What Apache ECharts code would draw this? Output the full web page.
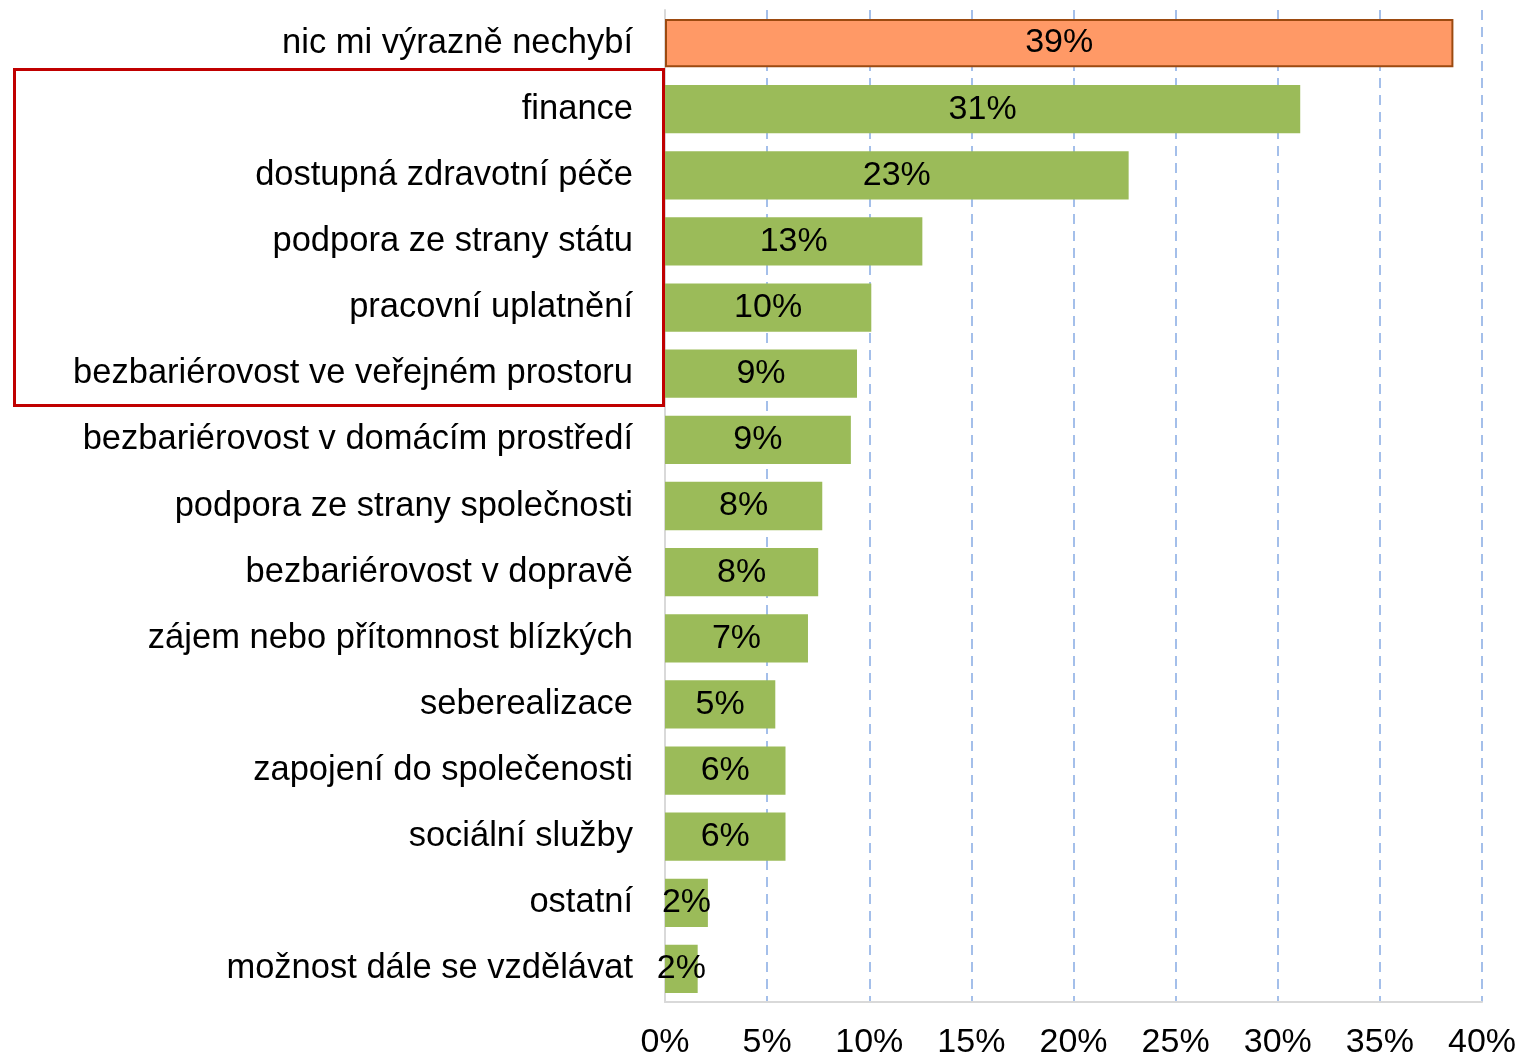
<!DOCTYPE html>
<html>
<head>
<meta charset="utf-8">
<title>Co chybí</title>
<script src="https://cdn.jsdelivr.net/npm/echarts@6/dist/echarts.min.js"></script>
<style>
  html, body { margin: 0; padding: 0; background: #fff; }
  #chart { width: 1519px; height: 1060px; }
</style>
</head>
<body>
<div id="chart"></div>
<script>
// kategorie shora dolů
var categories = [
  'nic mi výrazně nechybí',
  'finance',
  'dostupná zdravotní péče',
  'podpora ze strany státu',
  'pracovní uplatnění',
  'bezbariérovost ve veřejném prostoru',
  'bezbariérovost v domácím prostředí',
  'podpora ze strany společnosti',
  'bezbariérovost v dopravě',
  'zájem nebo přítomnost blízkých',
  'seberealizace',
  'zapojení do společenosti',
  'sociální služby',
  'ostatní',
  'možnost dále se vzdělávat'
];
// podíly v %
var values = [38.6, 31.1, 22.7, 12.6, 10.1, 9.4, 9.1, 7.7, 7.5, 7.0, 5.4, 5.9, 5.9, 2.1, 1.6];
var xTicks = [0, 5, 10, 15, 20, 25, 30, 35, 40];

var font = '"Liberation Sans", Arial, sans-serif';

var myChart = echarts.init(document.getElementById('chart'));

var data = values.map(function (v, i) {
  if (i === 0) {
    return {
      value: v,
      itemStyle: { color: '#ff9966', borderColor: '#9c4a10', borderWidth: 2 }
    };
  }
  return v;
});

var option = {
  animation: false,
  grid: { left: 665, right: 37, top: 10, bottom: 58, containLabel: false, outerBoundsMode: 'none' },
  xAxis: {
    type: 'value',
    min: xTicks[0],
    max: xTicks[xTicks.length - 1],
    interval: 5,
    axisLine: { show: true, lineStyle: { color: '#d9d9d9', width: 2 } },
    axisTick: { show: false },
    axisLabel: {
      color: '#000',
      fontSize: 34,
      fontFamily: font,
      margin: 24,
      formatter: function (v) { return v + '%'; }
    },
    splitLine: {
      show: true,
      lineStyle: { color: '#a4bfea', type: [10, 7], width: 2 }
    }
  },
  yAxis: {
    type: 'category',
    inverse: true,
    data: categories,
    axisLine: { show: true, lineStyle: { color: '#d9d9d9', width: 2 } },
    axisTick: { show: false },
    axisLabel: { color: '#000', fontSize: 34.5, fontFamily: font, margin: 32, padding: [6, 0, 0, 0] }
  },
  series: [
    {
      type: 'bar',
      data: data,
      barCategoryGap: '27%',
      itemStyle: { color: '#9bbb59' },
      label: {
        show: true,
        position: 'inside',
        color: '#000',
        fontSize: 34,
        fontFamily: font,
        padding: [6, 0, 0, 0],
        formatter: function (p) { return Math.round(p.value) + '%'; }
      }
    }
  ],
  graphic: [
    {
      type: 'rect',
      shape: { x: 14.5, y: 69.5, width: 649, height: 336 },
      style: { fill: 'none', stroke: '#c00000', lineWidth: 3 },
      z: 100
    }
  ]
};

myChart.setOption(option);
</script>
</body>
</html>
